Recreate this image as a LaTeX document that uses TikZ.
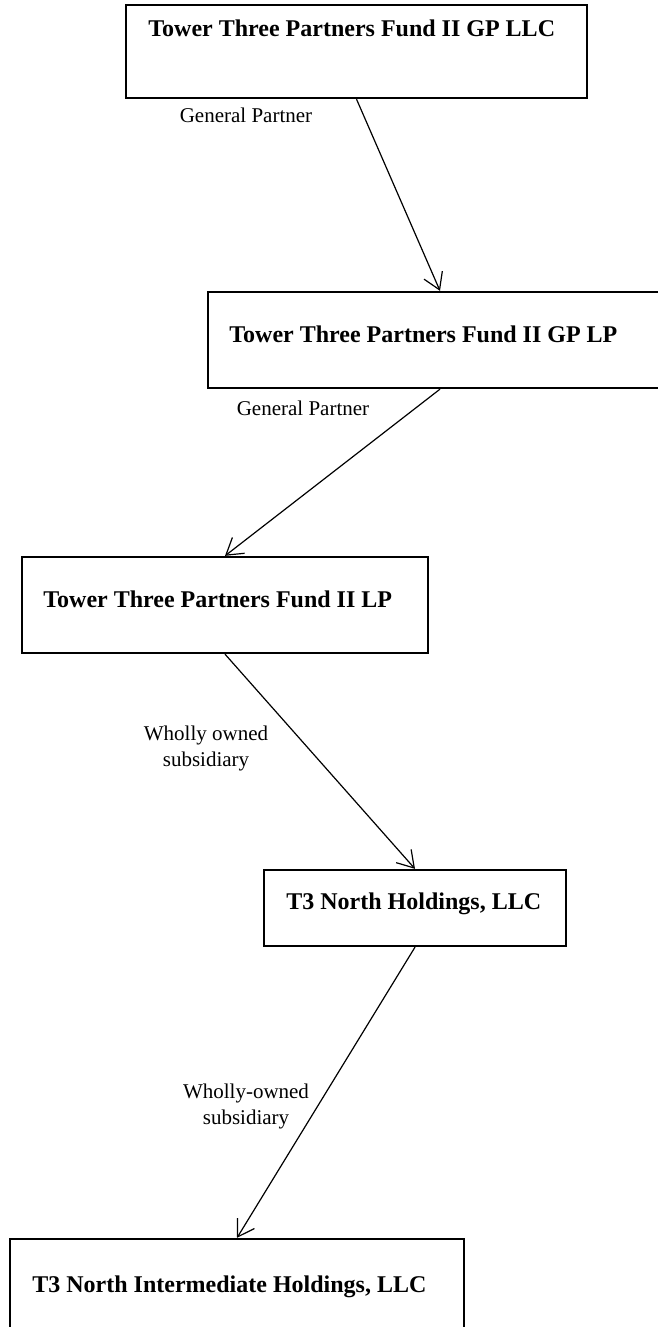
\documentclass[tikz,border=0pt]{standalone}
\usepackage{fontspec}
\setmainfont{Liberation Serif}
\usetikzlibrary{arrows.meta}

\begin{document}
\begin{tikzpicture}[x=0.5pt,y=-0.5pt,
	entity/.style={draw, line width=1.15pt, inner sep=0pt},
	title/.style={anchor=base west, inner sep=0pt, font=\bfseries\fontsize{12}{14}\selectfont},
	role/.style={inner sep=0pt, align=center, font=\fontsize{10.5}{13}\selectfont},
	link/.style={line width=0.6pt, -{Straight Barb[length=8pt,width=10pt]}}]
			\useasboundingbox (0,0) rectangle (658,1327);
			
			\node[entity, minimum width=230.5pt, minimum height=46.5pt](gpllc) at (356.5,51.5) {};
			\node[entity, minimum width=232pt, minimum height=48pt](gplp) at (440,340) {};
			\node[entity, minimum width=203pt, minimum height=48pt](fund) at (225,605) {};
			\node[entity, minimum width=151pt, minimum height=38pt](north) at (415,908) {};
			\node[entity, minimum width=227pt, minimum height=48pt](inter) at (237,1287) {};
			
			\node[title](gpllc name) at (148,37) {Tower Three Partners Fund II GP LLC};
			\node[title](gplp name) at (229,342) {Tower Three Partners Fund II GP LP};
			\node[title](fund name) at (43,607) {Tower Three Partners Fund II LP};
			\node[title](north name) at (286,909) {T3 North Holdings, LLC};
			\node[title](inter name) at (32,1292) {T3 North Intermediate Holdings, LLC};
			
			\draw[link](gpllc.south) -- (gplp.north);
			\draw[link](gplp.south) -- (fund.north);
			\draw[link](fund.south) -- (north.north);
			\draw[link](north.south) -- (inter.north);
			
			\node[role](gp1) at (246,115) {General Partner};
			\node[role](gp2) at (303,408) {General Partner};
			\node[role](wo1) at (206,748) {Wholly owned\\subsidiary};
			\node[role](wo2) at (246,1106) {Wholly-owned\\subsidiary};
\end{tikzpicture}
\end{document}
